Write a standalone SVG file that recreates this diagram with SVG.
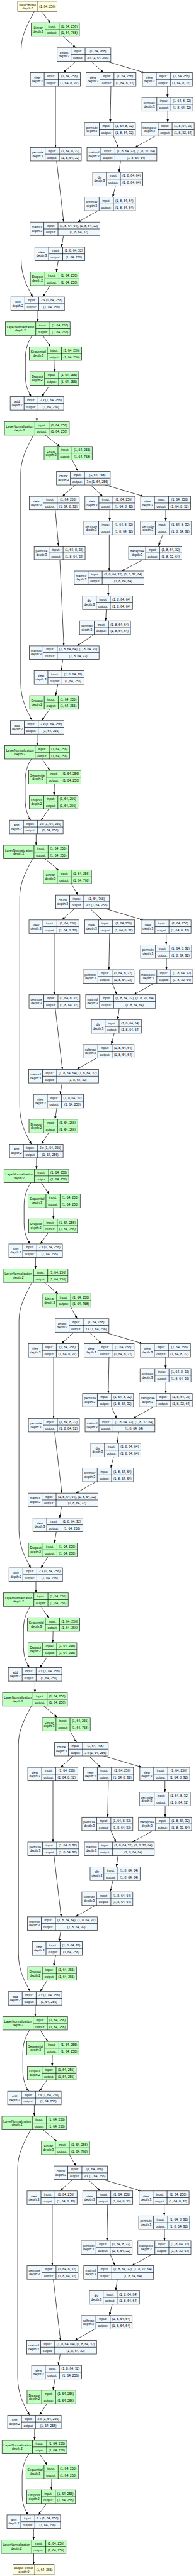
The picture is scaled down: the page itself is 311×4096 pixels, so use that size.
<svg xmlns="http://www.w3.org/2000/svg" width="311" height="4096" viewBox="0 0 311 4096">
<style>
text{font-family:"Liberation Sans",Arial,Helvetica,sans-serif;font-size:7.5px;text-anchor:middle;dominant-baseline:central;fill:#000}
.n rect{stroke:#3a3a3a;stroke-width:1.2}
.n path{fill:none;stroke:#000;stroke-width:1}
.f rect{fill:#F0F8FF}
.m rect{fill:#C1FFC1}
.t rect{fill:#FFFFE0}
#edges path{fill:none;stroke:#000;stroke-width:1;marker-end:url(#ah)}
</style>
<defs>
<marker id="ah" markerUnits="userSpaceOnUse" viewBox="0 0 8 6" markerWidth="8" markerHeight="6" refX="7" refY="2.6" orient="auto"><path d="M0,0L7,2.6L0,5.2z" fill="#000"/></marker>
</defs>
<rect width="311" height="4096" fill="#fff"/>
<g transform="scale(0.6797)">
<g id="edges">
<path d="M96.7,26.7L117,53.3"/>
<path d="M80,26.7C65,56.7 49.3,81.7 49.3,116.7L49.3,604.6C49.3,644.6 62.4,668.6 76.4,694.6"/>
<path d="M105.3,1017.8L139.7,1044.4"/>
<path d="M78,1017.8C63,1047.8 48.3,1072.8 48.3,1107.8L48.3,1595.7C48.3,1635.7 61.3,1659.7 75.3,1685.7"/>
<path d="M104.5,2008.9L137,2035.5"/>
<path d="M76,2008.9C61,2038.9 46,2063.9 46,2098.9L46,2586.8C46,2626.8 59.3,2650.8 73.3,2676.8"/>
<path d="M103.3,3000L135.5,3026.6"/>
<path d="M74.5,3000C59.5,3030 44.3,3055 44.3,3090L44.3,3577.9C44.3,3617.9 58,3641.9 72,3667.9"/>
<path d="M102,3991.1L134,4017.7"/>
<path d="M73,3991.1C58,4021.1 43,4046.1 43,4081.1L43,4569C43,4609 56.4,4633 70.4,4659"/>
<path d="M100.5,4982.2L132.5,5008.8"/>
<path d="M71.5,4982.2C56.5,5012.2 41.3,5037.2 41.3,5072.2L41.3,5560.1C41.3,5600.1 54.8,5624.1 68.8,5650.1"/>
<path d="M78.7,5973.3L78.7,5999.3"/>
<g id="edges-b1" transform="translate(3.1,53.3)">
<path d="M144.2,31.7L173.6,58.3"/><path d="M174.3,89.9L144.5,116.6"/><path d="M210,89.9L238.4,116.6"/><path d="M244.7,89.9L334,116.6"/><path d="M126.5,148.3L126.5,291.5"/><path d="M255.8,148.3L254.2,233.2"/><path d="M388,148.3L388,174.9"/><path d="M388.5,206.6L388.5,233.2"/><path d="M261.8,264.9L273.5,291.5"/><path d="M359.8,264.9L312,291.5"/><path d="M278.3,323.2L274.8,349.8"/><path d="M266.5,381.5L260,408.1"/><path d="M225.5,439.8L178.5,466.4"/><path d="M129,323.2L145.7,466.4"/><path d="M145,498.1L140.5,524.7"/><path d="M132.8,556.4L128.3,583"/><path d="M113.5,614.7L96.8,641.3"/><path d="M85.2,673L85.2,699.6"/><path d="M96.6,731.3L114.6,757.9"/><path d="M72.2,731.3C62,747 56.2,763 56.2,785L56.2,825C56.2,848 62,862 70.2,874.5"/><path d="M125.2,789.6L124.6,816.2"/><path d="M112.9,847.9L94.2,874.5"/><path d="M82.9,906.2L82.9,932.8"/>
</g>
<g id="edges-b2" transform="translate(0,1044.4)">
<path d="M168.7,31.7L182.3,58.3"/><path d="M176,90L145.3,116.6"/><path d="M211.3,90L240,116.6"/><path d="M246,90L335,116.6"/><path d="M129,148.3L136.7,233.2"/><path d="M256.3,148.3L256,174.9"/><path d="M387,148.3L387,174.9"/><path d="M380,206.6L370,233.2"/><path d="M255,206.6L255,291.5"/><path d="M333.3,264.9L284.3,291.5"/><path d="M253.3,323.2L252.7,349.8"/><path d="M248,381.5L246.7,408.1"/><path d="M220,439.8L180,466.4"/><path d="M139.7,264.9L149,466.4"/><path d="M146.7,498.1L142.7,524.7"/><path d="M135,556.4L130,583"/><path d="M115.7,614.7L97.7,641.3"/><path d="M86.7,673L86.7,699.6"/><path d="M98,731.3L116.3,757.9"/><path d="M73.3,731.3C63,747 58.7,763 58.7,785L58.7,825C58.7,848 64.5,862 71.5,874.5"/><path d="M127,789.6L126.3,816.2"/><path d="M114,847.9L96,874.5"/><path d="M84.3,906.2L84.3,932.8"/>
</g>
<g id="edges-b3" transform="translate(0,2035.5)">
<path d="M166.7,31.7L181.7,58.3"/><path d="M174.3,89.9L144.5,116.6"/><path d="M210,89.9L238.4,116.6"/><path d="M244.7,89.9L334,116.6"/><path d="M126.5,148.3L126.5,291.5"/><path d="M255.8,148.3L254.2,233.2"/><path d="M388,148.3L388,174.9"/><path d="M388.5,206.6L388.5,233.2"/><path d="M261.8,264.9L273.5,291.5"/><path d="M359.8,264.9L312,291.5"/><path d="M278.3,323.2L274.8,349.8"/><path d="M266.5,381.5L260,408.1"/><path d="M225.5,439.8L178.5,466.4"/><path d="M129,323.2L145.7,466.4"/><path d="M145,498.1L140.5,524.7"/><path d="M132.8,556.4L128.3,583"/><path d="M113.5,614.7L96.8,641.3"/><path d="M85.2,673L85.2,699.6"/><path d="M96.6,731.3L114.6,757.9"/><path d="M72.2,731.3C62,747 56.2,763 56.2,785L56.2,825C56.2,848 62,862 70.2,874.5"/><path d="M125.2,789.6L124.6,816.2"/><path d="M112.9,847.9L94.2,874.5"/><path d="M82.9,906.2L82.9,932.8"/>
</g>
<g id="edges-b4" transform="translate(-1.35,3026.6)">
<path d="M166.7,31.7L181.7,58.3"/><path d="M174.3,89.9L144.5,116.6"/><path d="M210,89.9L238.4,116.6"/><path d="M244.7,89.9L334,116.6"/><path d="M126.5,148.3L126.5,291.5"/><path d="M255.8,148.3L254.2,233.2"/><path d="M388,148.3L388,174.9"/><path d="M388.5,206.6L388.5,233.2"/><path d="M261.8,264.9L273.5,291.5"/><path d="M359.8,264.9L312,291.5"/><path d="M278.3,323.2L274.8,349.8"/><path d="M266.5,381.5L260,408.1"/><path d="M225.5,439.8L178.5,466.4"/><path d="M129,323.2L145.7,466.4"/><path d="M145,498.1L140.5,524.7"/><path d="M132.8,556.4L128.3,583"/><path d="M113.5,614.7L96.8,641.3"/><path d="M85.2,673L85.2,699.6"/><path d="M96.6,731.3L114.6,757.9"/><path d="M72.2,731.3C62,747 56.2,763 56.2,785L56.2,825C56.2,848 62,862 70.2,874.5"/><path d="M125.2,789.6L124.6,816.2"/><path d="M112.9,847.9L94.2,874.5"/><path d="M82.9,906.2L82.9,932.8"/>
</g>
<g id="edges-b5" transform="translate(-2.9,4017.7)">
<path d="M166.7,31.7L181.7,58.3"/><path d="M174.3,89.9L144.5,116.6"/><path d="M210,89.9L238.4,116.6"/><path d="M244.7,89.9L334,116.6"/><path d="M126.5,148.3L126.5,291.5"/><path d="M255.8,148.3L254.2,233.2"/><path d="M388,148.3L388,174.9"/><path d="M388.5,206.6L388.5,233.2"/><path d="M261.8,264.9L273.5,291.5"/><path d="M359.8,264.9L312,291.5"/><path d="M278.3,323.2L274.8,349.8"/><path d="M266.5,381.5L260,408.1"/><path d="M225.5,439.8L178.5,466.4"/><path d="M129,323.2L145.7,466.4"/><path d="M145,498.1L140.5,524.7"/><path d="M132.8,556.4L128.3,583"/><path d="M113.5,614.7L96.8,641.3"/><path d="M85.2,673L85.2,699.6"/><path d="M96.6,731.3L114.6,757.9"/><path d="M72.2,731.3C62,747 56.2,763 56.2,785L56.2,825C56.2,848 62,862 70.2,874.5"/><path d="M125.2,789.6L124.6,816.2"/><path d="M112.9,847.9L94.2,874.5"/><path d="M82.9,906.2L82.9,932.8"/>
</g>
<g id="edges-b6" transform="translate(-4.5,5008.8)">
<path d="M166.7,31.7L181.7,58.3"/><path d="M174.3,89.9L144.5,116.6"/><path d="M210,89.9L238.4,116.6"/><path d="M244.7,89.9L334,116.6"/><path d="M126.5,148.3L126.5,291.5"/><path d="M255.8,148.3L254.2,233.2"/><path d="M388,148.3L388,174.9"/><path d="M388.5,206.6L388.5,233.2"/><path d="M261.8,264.9L273.5,291.5"/><path d="M359.8,264.9L312,291.5"/><path d="M278.3,323.2L274.8,349.8"/><path d="M266.5,381.5L260,408.1"/><path d="M225.5,439.8L178.5,466.4"/><path d="M129,323.2L145.7,466.4"/><path d="M145,498.1L140.5,524.7"/><path d="M132.8,556.4L128.3,583"/><path d="M113.5,614.7L96.8,641.3"/><path d="M85.2,673L85.2,699.6"/><path d="M96.6,731.3L114.6,757.9"/><path d="M72.2,731.3C62,747 56.2,763 56.2,785L56.2,825C56.2,848 62,862 70.2,874.5"/><path d="M125.2,789.6L124.6,816.2"/><path d="M112.9,847.9L94.2,874.5"/><path d="M82.9,906.2L82.9,932.8"/>
</g>
</g>
<g id="nodes">
<g id="input-tensor" class="n t" transform="translate(41.3,2.7)"><rect width="91.7" height="24"/><path d="M47,0V24"/><text x="23.5" y="8.2">input-tensor</text><text x="23.5" y="16">depth:0</text><text x="69.35" y="12">(1, 64, 256)</text></g>
<g id="output-tensor" class="n t" transform="translate(30.3,5999.3)"><rect width="96" height="24"/><path d="M50.7,0V24"/><text x="25.35" y="8.2">output-tensor</text><text x="25.35" y="16">depth:0</text><text x="73.35" y="12">(1, 64, 256)</text></g>

<g id="block1" transform="translate(3.1,53.3)">
<g id="b1-linear" class="n m" transform="translate(69.9,0)"><rect width="112.3" height="31.7"/><path d="M32.3,0V31.7M65,0V31.7M32.3,15.85H112.3"/><text x="16.15" y="11.5">Linear</text><text x="16.15" y="19.8">depth:3</text><text x="48.65" y="7.9">input:</text><text x="48.65" y="23.8">output:</text><text x="88.65" y="7.9">(1, 64, 256)</text><text x="88.65" y="23.8">(1, 64, 768)</text></g>
<g id="b1-chunk" class="n f" transform="translate(130.3,58.3)"><rect width="125.3" height="31.7"/><path d="M32.3,0V31.7M65.3,0V31.7M32.3,15.85H125.3"/><text x="16.15" y="11.5">chunk</text><text x="16.15" y="19.8">depth:3</text><text x="48.8" y="7.9">input:</text><text x="48.8" y="23.8">output:</text><text x="95.3" y="7.9">(1, 64, 768)</text><text x="95.3" y="23.8">3 x (1, 64, 256)</text></g>
<g id="b1-view1" class="n f" transform="translate(67.7,116.6)"><rect width="116.7" height="31.7"/><path d="M32.4,0V31.7M65.2,0V31.7M32.4,15.85H116.7"/><text x="16.2" y="11.5">view</text><text x="16.2" y="19.8">depth:3</text><text x="48.8" y="7.9">input:</text><text x="48.8" y="23.8">output:</text><text x="90.95" y="7.9">(1, 64, 256)</text><text x="90.95" y="23.8">(1, 64, 8, 32)</text></g>
<g id="b1-view2" class="n f" transform="translate(197.7,116.6)"><rect width="116.7" height="31.7"/><path d="M32.4,0V31.7M65.2,0V31.7M32.4,15.85H116.7"/><text x="16.2" y="11.5">view</text><text x="16.2" y="19.8">depth:3</text><text x="48.8" y="7.9">input:</text><text x="48.8" y="23.8">output:</text><text x="90.95" y="7.9">(1, 64, 256)</text><text x="90.95" y="23.8">(1, 64, 8, 32)</text></g>
<g id="b1-view3" class="n f" transform="translate(329.3,116.6)"><rect width="116.7" height="31.7"/><path d="M32.4,0V31.7M65.2,0V31.7M32.4,15.85H116.7"/><text x="16.2" y="11.5">view</text><text x="16.2" y="19.8">depth:3</text><text x="48.8" y="7.9">input:</text><text x="48.8" y="23.8">output:</text><text x="90.95" y="7.9">(1, 64, 256)</text><text x="90.95" y="23.8">(1, 64, 8, 32)</text></g>
<g id="b1-permute3" class="n f" transform="translate(328.3,174.9)"><rect width="119" height="31.7"/><path d="M34.6,0V31.7M67.6,0V31.7M34.6,15.85H119"/><text x="17.3" y="11.5">permute</text><text x="17.3" y="19.8">depth:3</text><text x="51.1" y="7.9">input:</text><text x="51.1" y="23.8">output:</text><text x="93.3" y="7.9">(1, 64, 8, 32)</text><text x="93.3" y="23.8">(1, 8, 64, 32)</text></g>
<g id="b1-permute2" class="n f" transform="translate(194,233.2)"><rect width="119" height="31.7"/><path d="M34.6,0V31.7M67.6,0V31.7M34.6,15.85H119"/><text x="17.3" y="11.5">permute</text><text x="17.3" y="19.8">depth:3</text><text x="51.1" y="7.9">input:</text><text x="51.1" y="23.8">output:</text><text x="93.3" y="7.9">(1, 64, 8, 32)</text><text x="93.3" y="23.8">(1, 8, 64, 32)</text></g>
<g id="b1-transpose" class="n f" transform="translate(326.3,233.2)"><rect width="124" height="31.7"/><path d="M39.7,0V31.7M72.4,0V31.7M39.7,15.85H124"/><text x="19.85" y="11.5">transpose</text><text x="19.85" y="19.8">depth:3</text><text x="56.05" y="7.9">input:</text><text x="56.05" y="23.8">output:</text><text x="98.2" y="7.9">(1, 8, 64, 32)</text><text x="98.2" y="23.8">(1, 8, 32, 64)</text></g>
<g id="b1-permute1" class="n f" transform="translate(67.7,291.5)"><rect width="119" height="31.7"/><path d="M34.6,0V31.7M67.6,0V31.7M34.6,15.85H119"/><text x="17.3" y="11.5">permute</text><text x="17.3" y="19.8">depth:3</text><text x="51.1" y="7.9">input:</text><text x="51.1" y="23.8">output:</text><text x="93.3" y="7.9">(1, 64, 8, 32)</text><text x="93.3" y="23.8">(1, 8, 64, 32)</text></g>
<g id="b1-matmul1" class="n f" transform="translate(200,291.5)"><rect width="163" height="31.7"/><path d="M32.3,0V31.7M65.3,0V31.7M32.3,15.85H163"/><text x="16.15" y="11.5">matmul</text><text x="16.15" y="19.8">depth:3</text><text x="48.8" y="7.9">input:</text><text x="48.8" y="23.8">output:</text><text x="114.15" y="7.9">(1, 8, 64, 32), (1, 8, 32, 64)</text><text x="114.15" y="23.8">(1, 8, 64, 64)</text></g>
<g id="b1-div" class="n f" transform="translate(213.3,349.8)"><rect width="116.7" height="31.7"/><path d="M32,0V31.7M64.7,0V31.7M32,15.85H116.7"/><text x="16" y="11.5">div</text><text x="16" y="19.8">depth:3</text><text x="48.35" y="7.9">input:</text><text x="48.35" y="23.8">output:</text><text x="90.7" y="7.9">(1, 8, 64, 64)</text><text x="90.7" y="23.8">(1, 8, 64, 64)</text></g>
<g id="b1-softmax" class="n f" transform="translate(194,408.1)"><rect width="119" height="31.7"/><path d="M34.3,0V31.7M67.7,0V31.7M34.3,15.85H119"/><text x="17.15" y="11.5">softmax</text><text x="17.15" y="19.8">depth:3</text><text x="51" y="7.9">input:</text><text x="51" y="23.8">output:</text><text x="93.35" y="7.9">(1, 8, 64, 64)</text><text x="93.35" y="23.8">(1, 8, 64, 64)</text></g>
<g id="b1-matmul2" class="n f" transform="translate(67,466.4)"><rect width="163" height="31.7"/><path d="M32.3,0V31.7M65.3,0V31.7M32.3,15.85H163"/><text x="16.15" y="11.5">matmul</text><text x="16.15" y="19.8">depth:3</text><text x="48.8" y="7.9">input:</text><text x="48.8" y="23.8">output:</text><text x="114.15" y="7.9">(1, 8, 64, 64), (1, 8, 64, 32)</text><text x="114.15" y="23.8">(1, 8, 64, 32)</text></g>
<g id="b1-view4" class="n f" transform="translate(78.3,524.7)"><rect width="116.7" height="31.7"/><path d="M32,0V31.7M65,0V31.7M32,15.85H116.7"/><text x="16" y="11.5">view</text><text x="16" y="19.8">depth:3</text><text x="48.5" y="7.9">input:</text><text x="48.5" y="23.8">output:</text><text x="90.85" y="7.9">(1, 8, 64, 32)</text><text x="90.85" y="23.8">(1, 64, 256)</text></g>
<g id="b1-dropout1" class="n m" transform="translate(67.7,583)"><rect width="113.7" height="31.7"/><path d="M34,0V31.7M66.7,0V31.7M34,15.85H113.7"/><text x="17" y="11.5">Dropout</text><text x="17" y="19.8">depth:2</text><text x="50.35" y="7.9">input:</text><text x="50.35" y="23.8">output:</text><text x="90.2" y="7.9">(1, 64, 256)</text><text x="90.2" y="23.8">(1, 64, 256)</text></g>
<g id="b1-add1" class="n f" transform="translate(22.3,641.3)"><rect width="125" height="31.7"/><path d="M32.4,0V31.7M65,0V31.7M32.4,15.85H125"/><text x="16.2" y="11.5">add</text><text x="16.2" y="19.8">depth:2</text><text x="48.7" y="7.9">input:</text><text x="48.7" y="23.8">output:</text><text x="95" y="7.9">2 x (1, 64, 256)</text><text x="95" y="23.8">(1, 64, 256)</text></g>
<g id="b1-layernorm1" class="n m" transform="translate(9.3,699.6)"><rect width="151.3" height="31.7"/><path d="M71,0V31.7M104,0V31.7M71,15.85H151.3"/><text x="35.5" y="11.5">LayerNormalization</text><text x="35.5" y="19.8">depth:2</text><text x="87.5" y="7.9">input:</text><text x="87.5" y="23.8">output:</text><text x="127.65" y="7.9">(1, 64, 256)</text><text x="127.65" y="23.8">(1, 64, 256)</text></g>
<g id="b1-sequential" class="n m" transform="translate(65.3,757.9)"><rect width="122" height="31.7"/><path d="M42,0V31.7M75,0V31.7M42,15.85H122"/><text x="21" y="11.5">Sequential</text><text x="21" y="19.8">depth:3</text><text x="58.5" y="7.9">input:</text><text x="58.5" y="23.8">output:</text><text x="98.5" y="7.9">(1, 64, 256)</text><text x="98.5" y="23.8">(1, 64, 256)</text></g>
<g id="b1-dropout2" class="n m" transform="translate(67,816.2)"><rect width="113.7" height="31.7"/><path d="M34,0V31.7M66.7,0V31.7M34,15.85H113.7"/><text x="17" y="11.5">Dropout</text><text x="17" y="19.8">depth:2</text><text x="50.35" y="7.9">input:</text><text x="50.35" y="23.8">output:</text><text x="90.2" y="7.9">(1, 64, 256)</text><text x="90.2" y="23.8">(1, 64, 256)</text></g>
<g id="b1-add2" class="n f" transform="translate(20.7,874.5)"><rect width="125" height="31.7"/><path d="M32.4,0V31.7M65,0V31.7M32.4,15.85H125"/><text x="16.2" y="11.5">add</text><text x="16.2" y="19.8">depth:2</text><text x="48.7" y="7.9">input:</text><text x="48.7" y="23.8">output:</text><text x="95" y="7.9">2 x (1, 64, 256)</text><text x="95" y="23.8">(1, 64, 256)</text></g>
<g id="b1-layernorm2" class="n m" transform="translate(7.3,932.8)"><rect width="151.3" height="31.7"/><path d="M71,0V31.7M104,0V31.7M71,15.85H151.3"/><text x="35.5" y="11.5">LayerNormalization</text><text x="35.5" y="19.8">depth:2</text><text x="87.5" y="7.9">input:</text><text x="87.5" y="23.8">output:</text><text x="127.65" y="7.9">(1, 64, 256)</text><text x="127.65" y="23.8">(1, 64, 256)</text></g>
</g>

<g id="block2" transform="translate(0,1044.4)">
<g id="b2-linear" class="n m" transform="translate(103,0)"><rect width="112.3" height="31.7"/><path d="M32.3,0V31.7M65,0V31.7M32.3,15.85H112.3"/><text x="16.15" y="11.5">Linear</text><text x="16.15" y="19.8">depth:3</text><text x="48.65" y="7.9">input:</text><text x="48.65" y="23.8">output:</text><text x="88.65" y="7.9">(1, 64, 256)</text><text x="88.65" y="23.8">(1, 64, 768)</text></g>
<g id="b2-chunk" class="n f" transform="translate(132,58.3)"><rect width="125.3" height="31.7"/><path d="M32.3,0V31.7M65.3,0V31.7M32.3,15.85H125.3"/><text x="16.15" y="11.5">chunk</text><text x="16.15" y="19.8">depth:3</text><text x="48.8" y="7.9">input:</text><text x="48.8" y="23.8">output:</text><text x="95.3" y="7.9">(1, 64, 768)</text><text x="95.3" y="23.8">3 x (1, 64, 256)</text></g>
<g id="b2-view1" class="n f" transform="translate(68.3,116.6)"><rect width="116.7" height="31.7"/><path d="M32.4,0V31.7M65.2,0V31.7M32.4,15.85H116.7"/><text x="16.2" y="11.5">view</text><text x="16.2" y="19.8">depth:3</text><text x="48.8" y="7.9">input:</text><text x="48.8" y="23.8">output:</text><text x="90.95" y="7.9">(1, 64, 256)</text><text x="90.95" y="23.8">(1, 64, 8, 32)</text></g>
<g id="b2-view2" class="n f" transform="translate(198.3,116.6)"><rect width="116.7" height="31.7"/><path d="M32.4,0V31.7M65.2,0V31.7M32.4,15.85H116.7"/><text x="16.2" y="11.5">view</text><text x="16.2" y="19.8">depth:3</text><text x="48.8" y="7.9">input:</text><text x="48.8" y="23.8">output:</text><text x="90.95" y="7.9">(1, 64, 256)</text><text x="90.95" y="23.8">(1, 64, 8, 32)</text></g>
<g id="b2-view3" class="n f" transform="translate(328.3,116.6)"><rect width="116.7" height="31.7"/><path d="M32.4,0V31.7M65.2,0V31.7M32.4,15.85H116.7"/><text x="16.2" y="11.5">view</text><text x="16.2" y="19.8">depth:3</text><text x="48.8" y="7.9">input:</text><text x="48.8" y="23.8">output:</text><text x="90.95" y="7.9">(1, 64, 256)</text><text x="90.95" y="23.8">(1, 64, 8, 32)</text></g>
<g id="b2-permute2" class="n f" transform="translate(195.7,174.9)"><rect width="119" height="31.7"/><path d="M34.6,0V31.7M67.6,0V31.7M34.6,15.85H119"/><text x="17.3" y="11.5">permute</text><text x="17.3" y="19.8">depth:3</text><text x="51.1" y="7.9">input:</text><text x="51.1" y="23.8">output:</text><text x="93.3" y="7.9">(1, 64, 8, 32)</text><text x="93.3" y="23.8">(1, 8, 64, 32)</text></g>
<g id="b2-permute3" class="n f" transform="translate(328,174.9)"><rect width="119" height="31.7"/><path d="M34.6,0V31.7M67.6,0V31.7M34.6,15.85H119"/><text x="17.3" y="11.5">permute</text><text x="17.3" y="19.8">depth:3</text><text x="51.1" y="7.9">input:</text><text x="51.1" y="23.8">output:</text><text x="93.3" y="7.9">(1, 64, 8, 32)</text><text x="93.3" y="23.8">(1, 8, 64, 32)</text></g>
<g id="b2-permute1" class="n f" transform="translate(79.7,233.2)"><rect width="119" height="31.7"/><path d="M34.6,0V31.7M67.6,0V31.7M34.6,15.85H119"/><text x="17.3" y="11.5">permute</text><text x="17.3" y="19.8">depth:3</text><text x="51.1" y="7.9">input:</text><text x="51.1" y="23.8">output:</text><text x="93.3" y="7.9">(1, 64, 8, 32)</text><text x="93.3" y="23.8">(1, 8, 64, 32)</text></g>
<g id="b2-transpose" class="n f" transform="translate(300.3,233.2)"><rect width="124" height="31.7"/><path d="M39.7,0V31.7M72.4,0V31.7M39.7,15.85H124"/><text x="19.85" y="11.5">transpose</text><text x="19.85" y="19.8">depth:3</text><text x="56.05" y="7.9">input:</text><text x="56.05" y="23.8">output:</text><text x="98.2" y="7.9">(1, 8, 64, 32)</text><text x="98.2" y="23.8">(1, 8, 32, 64)</text></g>
<g id="b2-matmul1" class="n f" transform="translate(173.3,291.5)"><rect width="163" height="31.7"/><path d="M32.3,0V31.7M65.3,0V31.7M32.3,15.85H163"/><text x="16.15" y="11.5">matmul</text><text x="16.15" y="19.8">depth:3</text><text x="48.8" y="7.9">input:</text><text x="48.8" y="23.8">output:</text><text x="114.15" y="7.9">(1, 8, 64, 32), (1, 8, 32, 64)</text><text x="114.15" y="23.8">(1, 8, 64, 64)</text></g>
<g id="b2-div" class="n f" transform="translate(192.7,349.8)"><rect width="116.7" height="31.7"/><path d="M32,0V31.7M64.7,0V31.7M32,15.85H116.7"/><text x="16" y="11.5">div</text><text x="16" y="19.8">depth:3</text><text x="48.35" y="7.9">input:</text><text x="48.35" y="23.8">output:</text><text x="90.7" y="7.9">(1, 8, 64, 64)</text><text x="90.7" y="23.8">(1, 8, 64, 64)</text></g>
<g id="b2-softmax" class="n f" transform="translate(185.7,408.1)"><rect width="119" height="31.7"/><path d="M34.3,0V31.7M67.7,0V31.7M34.3,15.85H119"/><text x="17.15" y="11.5">softmax</text><text x="17.15" y="19.8">depth:3</text><text x="51" y="7.9">input:</text><text x="51" y="23.8">output:</text><text x="93.35" y="7.9">(1, 8, 64, 64)</text><text x="93.35" y="23.8">(1, 8, 64, 64)</text></g>
<g id="b2-matmul2" class="n f" transform="translate(68.3,466.4)"><rect width="163" height="31.7"/><path d="M32.3,0V31.7M65.3,0V31.7M32.3,15.85H163"/><text x="16.15" y="11.5">matmul</text><text x="16.15" y="19.8">depth:3</text><text x="48.8" y="7.9">input:</text><text x="48.8" y="23.8">output:</text><text x="114.15" y="7.9">(1, 8, 64, 64), (1, 8, 64, 32)</text><text x="114.15" y="23.8">(1, 8, 64, 32)</text></g>
<g id="b2-view4" class="n f" transform="translate(79.7,524.7)"><rect width="116.7" height="31.7"/><path d="M32,0V31.7M65,0V31.7M32,15.85H116.7"/><text x="16" y="11.5">view</text><text x="16" y="19.8">depth:3</text><text x="48.5" y="7.9">input:</text><text x="48.5" y="23.8">output:</text><text x="90.85" y="7.9">(1, 8, 64, 32)</text><text x="90.85" y="23.8">(1, 64, 256)</text></g>
<g id="b2-dropout1" class="n m" transform="translate(69.3,583)"><rect width="113.7" height="31.7"/><path d="M34,0V31.7M66.7,0V31.7M34,15.85H113.7"/><text x="17" y="11.5">Dropout</text><text x="17" y="19.8">depth:2</text><text x="50.35" y="7.9">input:</text><text x="50.35" y="23.8">output:</text><text x="90.2" y="7.9">(1, 64, 256)</text><text x="90.2" y="23.8">(1, 64, 256)</text></g>
<g id="b2-add1" class="n f" transform="translate(24.3,641.3)"><rect width="125" height="31.7"/><path d="M32.4,0V31.7M65,0V31.7M32.4,15.85H125"/><text x="16.2" y="11.5">add</text><text x="16.2" y="19.8">depth:2</text><text x="48.7" y="7.9">input:</text><text x="48.7" y="23.8">output:</text><text x="95" y="7.9">2 x (1, 64, 256)</text><text x="95" y="23.8">(1, 64, 256)</text></g>
<g id="b2-layernorm1" class="n m" transform="translate(11,699.6)"><rect width="151.3" height="31.7"/><path d="M71,0V31.7M104,0V31.7M71,15.85H151.3"/><text x="35.5" y="11.5">LayerNormalization</text><text x="35.5" y="19.8">depth:2</text><text x="87.5" y="7.9">input:</text><text x="87.5" y="23.8">output:</text><text x="127.65" y="7.9">(1, 64, 256)</text><text x="127.65" y="23.8">(1, 64, 256)</text></g>
<g id="b2-sequential" class="n m" transform="translate(67,757.9)"><rect width="122" height="31.7"/><path d="M42,0V31.7M75,0V31.7M42,15.85H122"/><text x="21" y="11.5">Sequential</text><text x="21" y="19.8">depth:3</text><text x="58.5" y="7.9">input:</text><text x="58.5" y="23.8">output:</text><text x="98.5" y="7.9">(1, 64, 256)</text><text x="98.5" y="23.8">(1, 64, 256)</text></g>
<g id="b2-dropout2" class="n m" transform="translate(68.3,816.2)"><rect width="113.7" height="31.7"/><path d="M34,0V31.7M66.7,0V31.7M34,15.85H113.7"/><text x="17" y="11.5">Dropout</text><text x="17" y="19.8">depth:2</text><text x="50.35" y="7.9">input:</text><text x="50.35" y="23.8">output:</text><text x="90.2" y="7.9">(1, 64, 256)</text><text x="90.2" y="23.8">(1, 64, 256)</text></g>
<g id="b2-add2" class="n f" transform="translate(22.3,874.5)"><rect width="125" height="31.7"/><path d="M32.4,0V31.7M65,0V31.7M32.4,15.85H125"/><text x="16.2" y="11.5">add</text><text x="16.2" y="19.8">depth:2</text><text x="48.7" y="7.9">input:</text><text x="48.7" y="23.8">output:</text><text x="95" y="7.9">2 x (1, 64, 256)</text><text x="95" y="23.8">(1, 64, 256)</text></g>
<g id="b2-layernorm2" class="n m" transform="translate(8.3,932.8)"><rect width="151.3" height="31.7"/><path d="M71,0V31.7M104,0V31.7M71,15.85H151.3"/><text x="35.5" y="11.5">LayerNormalization</text><text x="35.5" y="19.8">depth:2</text><text x="87.5" y="7.9">input:</text><text x="87.5" y="23.8">output:</text><text x="127.65" y="7.9">(1, 64, 256)</text><text x="127.65" y="23.8">(1, 64, 256)</text></g>
</g>

<g id="block3" transform="translate(0,2035.5)">
<g id="b3-linear" class="n m" transform="translate(101.3,0)"><rect width="112.3" height="31.7"/><path d="M32.3,0V31.7M65,0V31.7M32.3,15.85H112.3"/><text x="16.15" y="11.5">Linear</text><text x="16.15" y="19.8">depth:3</text><text x="48.65" y="7.9">input:</text><text x="48.65" y="23.8">output:</text><text x="88.65" y="7.9">(1, 64, 256)</text><text x="88.65" y="23.8">(1, 64, 768)</text></g>
<g id="b3-chunk" class="n f" transform="translate(130.3,58.3)"><rect width="125.3" height="31.7"/><path d="M32.3,0V31.7M65.3,0V31.7M32.3,15.85H125.3"/><text x="16.15" y="11.5">chunk</text><text x="16.15" y="19.8">depth:3</text><text x="48.8" y="7.9">input:</text><text x="48.8" y="23.8">output:</text><text x="95.3" y="7.9">(1, 64, 768)</text><text x="95.3" y="23.8">3 x (1, 64, 256)</text></g>
<g id="b3-view1" class="n f" transform="translate(67.7,116.6)"><rect width="116.7" height="31.7"/><path d="M32.4,0V31.7M65.2,0V31.7M32.4,15.85H116.7"/><text x="16.2" y="11.5">view</text><text x="16.2" y="19.8">depth:3</text><text x="48.8" y="7.9">input:</text><text x="48.8" y="23.8">output:</text><text x="90.95" y="7.9">(1, 64, 256)</text><text x="90.95" y="23.8">(1, 64, 8, 32)</text></g>
<g id="b3-view2" class="n f" transform="translate(197.7,116.6)"><rect width="116.7" height="31.7"/><path d="M32.4,0V31.7M65.2,0V31.7M32.4,15.85H116.7"/><text x="16.2" y="11.5">view</text><text x="16.2" y="19.8">depth:3</text><text x="48.8" y="7.9">input:</text><text x="48.8" y="23.8">output:</text><text x="90.95" y="7.9">(1, 64, 256)</text><text x="90.95" y="23.8">(1, 64, 8, 32)</text></g>
<g id="b3-view3" class="n f" transform="translate(329.3,116.6)"><rect width="116.7" height="31.7"/><path d="M32.4,0V31.7M65.2,0V31.7M32.4,15.85H116.7"/><text x="16.2" y="11.5">view</text><text x="16.2" y="19.8">depth:3</text><text x="48.8" y="7.9">input:</text><text x="48.8" y="23.8">output:</text><text x="90.95" y="7.9">(1, 64, 256)</text><text x="90.95" y="23.8">(1, 64, 8, 32)</text></g>
<g id="b3-permute3" class="n f" transform="translate(328.3,174.9)"><rect width="119" height="31.7"/><path d="M34.6,0V31.7M67.6,0V31.7M34.6,15.85H119"/><text x="17.3" y="11.5">permute</text><text x="17.3" y="19.8">depth:3</text><text x="51.1" y="7.9">input:</text><text x="51.1" y="23.8">output:</text><text x="93.3" y="7.9">(1, 64, 8, 32)</text><text x="93.3" y="23.8">(1, 8, 64, 32)</text></g>
<g id="b3-permute2" class="n f" transform="translate(194,233.2)"><rect width="119" height="31.7"/><path d="M34.6,0V31.7M67.6,0V31.7M34.6,15.85H119"/><text x="17.3" y="11.5">permute</text><text x="17.3" y="19.8">depth:3</text><text x="51.1" y="7.9">input:</text><text x="51.1" y="23.8">output:</text><text x="93.3" y="7.9">(1, 64, 8, 32)</text><text x="93.3" y="23.8">(1, 8, 64, 32)</text></g>
<g id="b3-transpose" class="n f" transform="translate(326.3,233.2)"><rect width="124" height="31.7"/><path d="M39.7,0V31.7M72.4,0V31.7M39.7,15.85H124"/><text x="19.85" y="11.5">transpose</text><text x="19.85" y="19.8">depth:3</text><text x="56.05" y="7.9">input:</text><text x="56.05" y="23.8">output:</text><text x="98.2" y="7.9">(1, 8, 64, 32)</text><text x="98.2" y="23.8">(1, 8, 32, 64)</text></g>
<g id="b3-permute1" class="n f" transform="translate(67.7,291.5)"><rect width="119" height="31.7"/><path d="M34.6,0V31.7M67.6,0V31.7M34.6,15.85H119"/><text x="17.3" y="11.5">permute</text><text x="17.3" y="19.8">depth:3</text><text x="51.1" y="7.9">input:</text><text x="51.1" y="23.8">output:</text><text x="93.3" y="7.9">(1, 64, 8, 32)</text><text x="93.3" y="23.8">(1, 8, 64, 32)</text></g>
<g id="b3-matmul1" class="n f" transform="translate(200,291.5)"><rect width="163" height="31.7"/><path d="M32.3,0V31.7M65.3,0V31.7M32.3,15.85H163"/><text x="16.15" y="11.5">matmul</text><text x="16.15" y="19.8">depth:3</text><text x="48.8" y="7.9">input:</text><text x="48.8" y="23.8">output:</text><text x="114.15" y="7.9">(1, 8, 64, 32), (1, 8, 32, 64)</text><text x="114.15" y="23.8">(1, 8, 64, 64)</text></g>
<g id="b3-div" class="n f" transform="translate(213.3,349.8)"><rect width="116.7" height="31.7"/><path d="M32,0V31.7M64.7,0V31.7M32,15.85H116.7"/><text x="16" y="11.5">div</text><text x="16" y="19.8">depth:3</text><text x="48.35" y="7.9">input:</text><text x="48.35" y="23.8">output:</text><text x="90.7" y="7.9">(1, 8, 64, 64)</text><text x="90.7" y="23.8">(1, 8, 64, 64)</text></g>
<g id="b3-softmax" class="n f" transform="translate(194,408.1)"><rect width="119" height="31.7"/><path d="M34.3,0V31.7M67.7,0V31.7M34.3,15.85H119"/><text x="17.15" y="11.5">softmax</text><text x="17.15" y="19.8">depth:3</text><text x="51" y="7.9">input:</text><text x="51" y="23.8">output:</text><text x="93.35" y="7.9">(1, 8, 64, 64)</text><text x="93.35" y="23.8">(1, 8, 64, 64)</text></g>
<g id="b3-matmul2" class="n f" transform="translate(67,466.4)"><rect width="163" height="31.7"/><path d="M32.3,0V31.7M65.3,0V31.7M32.3,15.85H163"/><text x="16.15" y="11.5">matmul</text><text x="16.15" y="19.8">depth:3</text><text x="48.8" y="7.9">input:</text><text x="48.8" y="23.8">output:</text><text x="114.15" y="7.9">(1, 8, 64, 64), (1, 8, 64, 32)</text><text x="114.15" y="23.8">(1, 8, 64, 32)</text></g>
<g id="b3-view4" class="n f" transform="translate(78.3,524.7)"><rect width="116.7" height="31.7"/><path d="M32,0V31.7M65,0V31.7M32,15.85H116.7"/><text x="16" y="11.5">view</text><text x="16" y="19.8">depth:3</text><text x="48.5" y="7.9">input:</text><text x="48.5" y="23.8">output:</text><text x="90.85" y="7.9">(1, 8, 64, 32)</text><text x="90.85" y="23.8">(1, 64, 256)</text></g>
<g id="b3-dropout1" class="n m" transform="translate(67.7,583)"><rect width="113.7" height="31.7"/><path d="M34,0V31.7M66.7,0V31.7M34,15.85H113.7"/><text x="17" y="11.5">Dropout</text><text x="17" y="19.8">depth:2</text><text x="50.35" y="7.9">input:</text><text x="50.35" y="23.8">output:</text><text x="90.2" y="7.9">(1, 64, 256)</text><text x="90.2" y="23.8">(1, 64, 256)</text></g>
<g id="b3-add1" class="n f" transform="translate(22.3,641.3)"><rect width="125" height="31.7"/><path d="M32.4,0V31.7M65,0V31.7M32.4,15.85H125"/><text x="16.2" y="11.5">add</text><text x="16.2" y="19.8">depth:2</text><text x="48.7" y="7.9">input:</text><text x="48.7" y="23.8">output:</text><text x="95" y="7.9">2 x (1, 64, 256)</text><text x="95" y="23.8">(1, 64, 256)</text></g>
<g id="b3-layernorm1" class="n m" transform="translate(9.3,699.6)"><rect width="151.3" height="31.7"/><path d="M71,0V31.7M104,0V31.7M71,15.85H151.3"/><text x="35.5" y="11.5">LayerNormalization</text><text x="35.5" y="19.8">depth:2</text><text x="87.5" y="7.9">input:</text><text x="87.5" y="23.8">output:</text><text x="127.65" y="7.9">(1, 64, 256)</text><text x="127.65" y="23.8">(1, 64, 256)</text></g>
<g id="b3-sequential" class="n m" transform="translate(65.3,757.9)"><rect width="122" height="31.7"/><path d="M42,0V31.7M75,0V31.7M42,15.85H122"/><text x="21" y="11.5">Sequential</text><text x="21" y="19.8">depth:3</text><text x="58.5" y="7.9">input:</text><text x="58.5" y="23.8">output:</text><text x="98.5" y="7.9">(1, 64, 256)</text><text x="98.5" y="23.8">(1, 64, 256)</text></g>
<g id="b3-dropout2" class="n m" transform="translate(67,816.2)"><rect width="113.7" height="31.7"/><path d="M34,0V31.7M66.7,0V31.7M34,15.85H113.7"/><text x="17" y="11.5">Dropout</text><text x="17" y="19.8">depth:2</text><text x="50.35" y="7.9">input:</text><text x="50.35" y="23.8">output:</text><text x="90.2" y="7.9">(1, 64, 256)</text><text x="90.2" y="23.8">(1, 64, 256)</text></g>
<g id="b3-add2" class="n f" transform="translate(20.7,874.5)"><rect width="125" height="31.7"/><path d="M32.4,0V31.7M65,0V31.7M32.4,15.85H125"/><text x="16.2" y="11.5">add</text><text x="16.2" y="19.8">depth:2</text><text x="48.7" y="7.9">input:</text><text x="48.7" y="23.8">output:</text><text x="95" y="7.9">2 x (1, 64, 256)</text><text x="95" y="23.8">(1, 64, 256)</text></g>
<g id="b3-layernorm2" class="n m" transform="translate(7.3,932.8)"><rect width="151.3" height="31.7"/><path d="M71,0V31.7M104,0V31.7M71,15.85H151.3"/><text x="35.5" y="11.5">LayerNormalization</text><text x="35.5" y="19.8">depth:2</text><text x="87.5" y="7.9">input:</text><text x="87.5" y="23.8">output:</text><text x="127.65" y="7.9">(1, 64, 256)</text><text x="127.65" y="23.8">(1, 64, 256)</text></g>
</g>

<g id="block4" transform="translate(-1.35,3026.6)">
<g id="b4-linear" class="n m" transform="translate(101.3,0)"><rect width="112.3" height="31.7"/><path d="M32.3,0V31.7M65,0V31.7M32.3,15.85H112.3"/><text x="16.15" y="11.5">Linear</text><text x="16.15" y="19.8">depth:3</text><text x="48.65" y="7.9">input:</text><text x="48.65" y="23.8">output:</text><text x="88.65" y="7.9">(1, 64, 256)</text><text x="88.65" y="23.8">(1, 64, 768)</text></g>
<g id="b4-chunk" class="n f" transform="translate(130.3,58.3)"><rect width="125.3" height="31.7"/><path d="M32.3,0V31.7M65.3,0V31.7M32.3,15.85H125.3"/><text x="16.15" y="11.5">chunk</text><text x="16.15" y="19.8">depth:3</text><text x="48.8" y="7.9">input:</text><text x="48.8" y="23.8">output:</text><text x="95.3" y="7.9">(1, 64, 768)</text><text x="95.3" y="23.8">3 x (1, 64, 256)</text></g>
<g id="b4-view1" class="n f" transform="translate(67.7,116.6)"><rect width="116.7" height="31.7"/><path d="M32.4,0V31.7M65.2,0V31.7M32.4,15.85H116.7"/><text x="16.2" y="11.5">view</text><text x="16.2" y="19.8">depth:3</text><text x="48.8" y="7.9">input:</text><text x="48.8" y="23.8">output:</text><text x="90.95" y="7.9">(1, 64, 256)</text><text x="90.95" y="23.8">(1, 64, 8, 32)</text></g>
<g id="b4-view2" class="n f" transform="translate(197.7,116.6)"><rect width="116.7" height="31.7"/><path d="M32.4,0V31.7M65.2,0V31.7M32.4,15.85H116.7"/><text x="16.2" y="11.5">view</text><text x="16.2" y="19.8">depth:3</text><text x="48.8" y="7.9">input:</text><text x="48.8" y="23.8">output:</text><text x="90.95" y="7.9">(1, 64, 256)</text><text x="90.95" y="23.8">(1, 64, 8, 32)</text></g>
<g id="b4-view3" class="n f" transform="translate(329.3,116.6)"><rect width="116.7" height="31.7"/><path d="M32.4,0V31.7M65.2,0V31.7M32.4,15.85H116.7"/><text x="16.2" y="11.5">view</text><text x="16.2" y="19.8">depth:3</text><text x="48.8" y="7.9">input:</text><text x="48.8" y="23.8">output:</text><text x="90.95" y="7.9">(1, 64, 256)</text><text x="90.95" y="23.8">(1, 64, 8, 32)</text></g>
<g id="b4-permute3" class="n f" transform="translate(328.3,174.9)"><rect width="119" height="31.7"/><path d="M34.6,0V31.7M67.6,0V31.7M34.6,15.85H119"/><text x="17.3" y="11.5">permute</text><text x="17.3" y="19.8">depth:3</text><text x="51.1" y="7.9">input:</text><text x="51.1" y="23.8">output:</text><text x="93.3" y="7.9">(1, 64, 8, 32)</text><text x="93.3" y="23.8">(1, 8, 64, 32)</text></g>
<g id="b4-permute2" class="n f" transform="translate(194,233.2)"><rect width="119" height="31.7"/><path d="M34.6,0V31.7M67.6,0V31.7M34.6,15.85H119"/><text x="17.3" y="11.5">permute</text><text x="17.3" y="19.8">depth:3</text><text x="51.1" y="7.9">input:</text><text x="51.1" y="23.8">output:</text><text x="93.3" y="7.9">(1, 64, 8, 32)</text><text x="93.3" y="23.8">(1, 8, 64, 32)</text></g>
<g id="b4-transpose" class="n f" transform="translate(326.3,233.2)"><rect width="124" height="31.7"/><path d="M39.7,0V31.7M72.4,0V31.7M39.7,15.85H124"/><text x="19.85" y="11.5">transpose</text><text x="19.85" y="19.8">depth:3</text><text x="56.05" y="7.9">input:</text><text x="56.05" y="23.8">output:</text><text x="98.2" y="7.9">(1, 8, 64, 32)</text><text x="98.2" y="23.8">(1, 8, 32, 64)</text></g>
<g id="b4-permute1" class="n f" transform="translate(67.7,291.5)"><rect width="119" height="31.7"/><path d="M34.6,0V31.7M67.6,0V31.7M34.6,15.85H119"/><text x="17.3" y="11.5">permute</text><text x="17.3" y="19.8">depth:3</text><text x="51.1" y="7.9">input:</text><text x="51.1" y="23.8">output:</text><text x="93.3" y="7.9">(1, 64, 8, 32)</text><text x="93.3" y="23.8">(1, 8, 64, 32)</text></g>
<g id="b4-matmul1" class="n f" transform="translate(200,291.5)"><rect width="163" height="31.7"/><path d="M32.3,0V31.7M65.3,0V31.7M32.3,15.85H163"/><text x="16.15" y="11.5">matmul</text><text x="16.15" y="19.8">depth:3</text><text x="48.8" y="7.9">input:</text><text x="48.8" y="23.8">output:</text><text x="114.15" y="7.9">(1, 8, 64, 32), (1, 8, 32, 64)</text><text x="114.15" y="23.8">(1, 8, 64, 64)</text></g>
<g id="b4-div" class="n f" transform="translate(213.3,349.8)"><rect width="116.7" height="31.7"/><path d="M32,0V31.7M64.7,0V31.7M32,15.85H116.7"/><text x="16" y="11.5">div</text><text x="16" y="19.8">depth:3</text><text x="48.35" y="7.9">input:</text><text x="48.35" y="23.8">output:</text><text x="90.7" y="7.9">(1, 8, 64, 64)</text><text x="90.7" y="23.8">(1, 8, 64, 64)</text></g>
<g id="b4-softmax" class="n f" transform="translate(194,408.1)"><rect width="119" height="31.7"/><path d="M34.3,0V31.7M67.7,0V31.7M34.3,15.85H119"/><text x="17.15" y="11.5">softmax</text><text x="17.15" y="19.8">depth:3</text><text x="51" y="7.9">input:</text><text x="51" y="23.8">output:</text><text x="93.35" y="7.9">(1, 8, 64, 64)</text><text x="93.35" y="23.8">(1, 8, 64, 64)</text></g>
<g id="b4-matmul2" class="n f" transform="translate(67,466.4)"><rect width="163" height="31.7"/><path d="M32.3,0V31.7M65.3,0V31.7M32.3,15.85H163"/><text x="16.15" y="11.5">matmul</text><text x="16.15" y="19.8">depth:3</text><text x="48.8" y="7.9">input:</text><text x="48.8" y="23.8">output:</text><text x="114.15" y="7.9">(1, 8, 64, 64), (1, 8, 64, 32)</text><text x="114.15" y="23.8">(1, 8, 64, 32)</text></g>
<g id="b4-view4" class="n f" transform="translate(78.3,524.7)"><rect width="116.7" height="31.7"/><path d="M32,0V31.7M65,0V31.7M32,15.85H116.7"/><text x="16" y="11.5">view</text><text x="16" y="19.8">depth:3</text><text x="48.5" y="7.9">input:</text><text x="48.5" y="23.8">output:</text><text x="90.85" y="7.9">(1, 8, 64, 32)</text><text x="90.85" y="23.8">(1, 64, 256)</text></g>
<g id="b4-dropout1" class="n m" transform="translate(67.7,583)"><rect width="113.7" height="31.7"/><path d="M34,0V31.7M66.7,0V31.7M34,15.85H113.7"/><text x="17" y="11.5">Dropout</text><text x="17" y="19.8">depth:2</text><text x="50.35" y="7.9">input:</text><text x="50.35" y="23.8">output:</text><text x="90.2" y="7.9">(1, 64, 256)</text><text x="90.2" y="23.8">(1, 64, 256)</text></g>
<g id="b4-add1" class="n f" transform="translate(22.3,641.3)"><rect width="125" height="31.7"/><path d="M32.4,0V31.7M65,0V31.7M32.4,15.85H125"/><text x="16.2" y="11.5">add</text><text x="16.2" y="19.8">depth:2</text><text x="48.7" y="7.9">input:</text><text x="48.7" y="23.8">output:</text><text x="95" y="7.9">2 x (1, 64, 256)</text><text x="95" y="23.8">(1, 64, 256)</text></g>
<g id="b4-layernorm1" class="n m" transform="translate(9.3,699.6)"><rect width="151.3" height="31.7"/><path d="M71,0V31.7M104,0V31.7M71,15.85H151.3"/><text x="35.5" y="11.5">LayerNormalization</text><text x="35.5" y="19.8">depth:2</text><text x="87.5" y="7.9">input:</text><text x="87.5" y="23.8">output:</text><text x="127.65" y="7.9">(1, 64, 256)</text><text x="127.65" y="23.8">(1, 64, 256)</text></g>
<g id="b4-sequential" class="n m" transform="translate(65.3,757.9)"><rect width="122" height="31.7"/><path d="M42,0V31.7M75,0V31.7M42,15.85H122"/><text x="21" y="11.5">Sequential</text><text x="21" y="19.8">depth:3</text><text x="58.5" y="7.9">input:</text><text x="58.5" y="23.8">output:</text><text x="98.5" y="7.9">(1, 64, 256)</text><text x="98.5" y="23.8">(1, 64, 256)</text></g>
<g id="b4-dropout2" class="n m" transform="translate(67,816.2)"><rect width="113.7" height="31.7"/><path d="M34,0V31.7M66.7,0V31.7M34,15.85H113.7"/><text x="17" y="11.5">Dropout</text><text x="17" y="19.8">depth:2</text><text x="50.35" y="7.9">input:</text><text x="50.35" y="23.8">output:</text><text x="90.2" y="7.9">(1, 64, 256)</text><text x="90.2" y="23.8">(1, 64, 256)</text></g>
<g id="b4-add2" class="n f" transform="translate(20.7,874.5)"><rect width="125" height="31.7"/><path d="M32.4,0V31.7M65,0V31.7M32.4,15.85H125"/><text x="16.2" y="11.5">add</text><text x="16.2" y="19.8">depth:2</text><text x="48.7" y="7.9">input:</text><text x="48.7" y="23.8">output:</text><text x="95" y="7.9">2 x (1, 64, 256)</text><text x="95" y="23.8">(1, 64, 256)</text></g>
<g id="b4-layernorm2" class="n m" transform="translate(7.3,932.8)"><rect width="151.3" height="31.7"/><path d="M71,0V31.7M104,0V31.7M71,15.85H151.3"/><text x="35.5" y="11.5">LayerNormalization</text><text x="35.5" y="19.8">depth:2</text><text x="87.5" y="7.9">input:</text><text x="87.5" y="23.8">output:</text><text x="127.65" y="7.9">(1, 64, 256)</text><text x="127.65" y="23.8">(1, 64, 256)</text></g>
</g>

<g id="block5" transform="translate(-2.9,4017.7)">
<g id="b5-linear" class="n m" transform="translate(101.3,0)"><rect width="112.3" height="31.7"/><path d="M32.3,0V31.7M65,0V31.7M32.3,15.85H112.3"/><text x="16.15" y="11.5">Linear</text><text x="16.15" y="19.8">depth:3</text><text x="48.65" y="7.9">input:</text><text x="48.65" y="23.8">output:</text><text x="88.65" y="7.9">(1, 64, 256)</text><text x="88.65" y="23.8">(1, 64, 768)</text></g>
<g id="b5-chunk" class="n f" transform="translate(130.3,58.3)"><rect width="125.3" height="31.7"/><path d="M32.3,0V31.7M65.3,0V31.7M32.3,15.85H125.3"/><text x="16.15" y="11.5">chunk</text><text x="16.15" y="19.8">depth:3</text><text x="48.8" y="7.9">input:</text><text x="48.8" y="23.8">output:</text><text x="95.3" y="7.9">(1, 64, 768)</text><text x="95.3" y="23.8">3 x (1, 64, 256)</text></g>
<g id="b5-view1" class="n f" transform="translate(67.7,116.6)"><rect width="116.7" height="31.7"/><path d="M32.4,0V31.7M65.2,0V31.7M32.4,15.85H116.7"/><text x="16.2" y="11.5">view</text><text x="16.2" y="19.8">depth:3</text><text x="48.8" y="7.9">input:</text><text x="48.8" y="23.8">output:</text><text x="90.95" y="7.9">(1, 64, 256)</text><text x="90.95" y="23.8">(1, 64, 8, 32)</text></g>
<g id="b5-view2" class="n f" transform="translate(197.7,116.6)"><rect width="116.7" height="31.7"/><path d="M32.4,0V31.7M65.2,0V31.7M32.4,15.85H116.7"/><text x="16.2" y="11.5">view</text><text x="16.2" y="19.8">depth:3</text><text x="48.8" y="7.9">input:</text><text x="48.8" y="23.8">output:</text><text x="90.95" y="7.9">(1, 64, 256)</text><text x="90.95" y="23.8">(1, 64, 8, 32)</text></g>
<g id="b5-view3" class="n f" transform="translate(329.3,116.6)"><rect width="116.7" height="31.7"/><path d="M32.4,0V31.7M65.2,0V31.7M32.4,15.85H116.7"/><text x="16.2" y="11.5">view</text><text x="16.2" y="19.8">depth:3</text><text x="48.8" y="7.9">input:</text><text x="48.8" y="23.8">output:</text><text x="90.95" y="7.9">(1, 64, 256)</text><text x="90.95" y="23.8">(1, 64, 8, 32)</text></g>
<g id="b5-permute3" class="n f" transform="translate(328.3,174.9)"><rect width="119" height="31.7"/><path d="M34.6,0V31.7M67.6,0V31.7M34.6,15.85H119"/><text x="17.3" y="11.5">permute</text><text x="17.3" y="19.8">depth:3</text><text x="51.1" y="7.9">input:</text><text x="51.1" y="23.8">output:</text><text x="93.3" y="7.9">(1, 64, 8, 32)</text><text x="93.3" y="23.8">(1, 8, 64, 32)</text></g>
<g id="b5-permute2" class="n f" transform="translate(194,233.2)"><rect width="119" height="31.7"/><path d="M34.6,0V31.7M67.6,0V31.7M34.6,15.85H119"/><text x="17.3" y="11.5">permute</text><text x="17.3" y="19.8">depth:3</text><text x="51.1" y="7.9">input:</text><text x="51.1" y="23.8">output:</text><text x="93.3" y="7.9">(1, 64, 8, 32)</text><text x="93.3" y="23.8">(1, 8, 64, 32)</text></g>
<g id="b5-transpose" class="n f" transform="translate(326.3,233.2)"><rect width="124" height="31.7"/><path d="M39.7,0V31.7M72.4,0V31.7M39.7,15.85H124"/><text x="19.85" y="11.5">transpose</text><text x="19.85" y="19.8">depth:3</text><text x="56.05" y="7.9">input:</text><text x="56.05" y="23.8">output:</text><text x="98.2" y="7.9">(1, 8, 64, 32)</text><text x="98.2" y="23.8">(1, 8, 32, 64)</text></g>
<g id="b5-permute1" class="n f" transform="translate(67.7,291.5)"><rect width="119" height="31.7"/><path d="M34.6,0V31.7M67.6,0V31.7M34.6,15.85H119"/><text x="17.3" y="11.5">permute</text><text x="17.3" y="19.8">depth:3</text><text x="51.1" y="7.9">input:</text><text x="51.1" y="23.8">output:</text><text x="93.3" y="7.9">(1, 64, 8, 32)</text><text x="93.3" y="23.8">(1, 8, 64, 32)</text></g>
<g id="b5-matmul1" class="n f" transform="translate(200,291.5)"><rect width="163" height="31.7"/><path d="M32.3,0V31.7M65.3,0V31.7M32.3,15.85H163"/><text x="16.15" y="11.5">matmul</text><text x="16.15" y="19.8">depth:3</text><text x="48.8" y="7.9">input:</text><text x="48.8" y="23.8">output:</text><text x="114.15" y="7.9">(1, 8, 64, 32), (1, 8, 32, 64)</text><text x="114.15" y="23.8">(1, 8, 64, 64)</text></g>
<g id="b5-div" class="n f" transform="translate(213.3,349.8)"><rect width="116.7" height="31.7"/><path d="M32,0V31.7M64.7,0V31.7M32,15.85H116.7"/><text x="16" y="11.5">div</text><text x="16" y="19.8">depth:3</text><text x="48.35" y="7.9">input:</text><text x="48.35" y="23.8">output:</text><text x="90.7" y="7.9">(1, 8, 64, 64)</text><text x="90.7" y="23.8">(1, 8, 64, 64)</text></g>
<g id="b5-softmax" class="n f" transform="translate(194,408.1)"><rect width="119" height="31.7"/><path d="M34.3,0V31.7M67.7,0V31.7M34.3,15.85H119"/><text x="17.15" y="11.5">softmax</text><text x="17.15" y="19.8">depth:3</text><text x="51" y="7.9">input:</text><text x="51" y="23.8">output:</text><text x="93.35" y="7.9">(1, 8, 64, 64)</text><text x="93.35" y="23.8">(1, 8, 64, 64)</text></g>
<g id="b5-matmul2" class="n f" transform="translate(67,466.4)"><rect width="163" height="31.7"/><path d="M32.3,0V31.7M65.3,0V31.7M32.3,15.85H163"/><text x="16.15" y="11.5">matmul</text><text x="16.15" y="19.8">depth:3</text><text x="48.8" y="7.9">input:</text><text x="48.8" y="23.8">output:</text><text x="114.15" y="7.9">(1, 8, 64, 64), (1, 8, 64, 32)</text><text x="114.15" y="23.8">(1, 8, 64, 32)</text></g>
<g id="b5-view4" class="n f" transform="translate(78.3,524.7)"><rect width="116.7" height="31.7"/><path d="M32,0V31.7M65,0V31.7M32,15.85H116.7"/><text x="16" y="11.5">view</text><text x="16" y="19.8">depth:3</text><text x="48.5" y="7.9">input:</text><text x="48.5" y="23.8">output:</text><text x="90.85" y="7.9">(1, 8, 64, 32)</text><text x="90.85" y="23.8">(1, 64, 256)</text></g>
<g id="b5-dropout1" class="n m" transform="translate(67.7,583)"><rect width="113.7" height="31.7"/><path d="M34,0V31.7M66.7,0V31.7M34,15.85H113.7"/><text x="17" y="11.5">Dropout</text><text x="17" y="19.8">depth:2</text><text x="50.35" y="7.9">input:</text><text x="50.35" y="23.8">output:</text><text x="90.2" y="7.9">(1, 64, 256)</text><text x="90.2" y="23.8">(1, 64, 256)</text></g>
<g id="b5-add1" class="n f" transform="translate(22.3,641.3)"><rect width="125" height="31.7"/><path d="M32.4,0V31.7M65,0V31.7M32.4,15.85H125"/><text x="16.2" y="11.5">add</text><text x="16.2" y="19.8">depth:2</text><text x="48.7" y="7.9">input:</text><text x="48.7" y="23.8">output:</text><text x="95" y="7.9">2 x (1, 64, 256)</text><text x="95" y="23.8">(1, 64, 256)</text></g>
<g id="b5-layernorm1" class="n m" transform="translate(9.3,699.6)"><rect width="151.3" height="31.7"/><path d="M71,0V31.7M104,0V31.7M71,15.85H151.3"/><text x="35.5" y="11.5">LayerNormalization</text><text x="35.5" y="19.8">depth:2</text><text x="87.5" y="7.9">input:</text><text x="87.5" y="23.8">output:</text><text x="127.65" y="7.9">(1, 64, 256)</text><text x="127.65" y="23.8">(1, 64, 256)</text></g>
<g id="b5-sequential" class="n m" transform="translate(65.3,757.9)"><rect width="122" height="31.7"/><path d="M42,0V31.7M75,0V31.7M42,15.85H122"/><text x="21" y="11.5">Sequential</text><text x="21" y="19.8">depth:3</text><text x="58.5" y="7.9">input:</text><text x="58.5" y="23.8">output:</text><text x="98.5" y="7.9">(1, 64, 256)</text><text x="98.5" y="23.8">(1, 64, 256)</text></g>
<g id="b5-dropout2" class="n m" transform="translate(67,816.2)"><rect width="113.7" height="31.7"/><path d="M34,0V31.7M66.7,0V31.7M34,15.85H113.7"/><text x="17" y="11.5">Dropout</text><text x="17" y="19.8">depth:2</text><text x="50.35" y="7.9">input:</text><text x="50.35" y="23.8">output:</text><text x="90.2" y="7.9">(1, 64, 256)</text><text x="90.2" y="23.8">(1, 64, 256)</text></g>
<g id="b5-add2" class="n f" transform="translate(20.7,874.5)"><rect width="125" height="31.7"/><path d="M32.4,0V31.7M65,0V31.7M32.4,15.85H125"/><text x="16.2" y="11.5">add</text><text x="16.2" y="19.8">depth:2</text><text x="48.7" y="7.9">input:</text><text x="48.7" y="23.8">output:</text><text x="95" y="7.9">2 x (1, 64, 256)</text><text x="95" y="23.8">(1, 64, 256)</text></g>
<g id="b5-layernorm2" class="n m" transform="translate(7.3,932.8)"><rect width="151.3" height="31.7"/><path d="M71,0V31.7M104,0V31.7M71,15.85H151.3"/><text x="35.5" y="11.5">LayerNormalization</text><text x="35.5" y="19.8">depth:2</text><text x="87.5" y="7.9">input:</text><text x="87.5" y="23.8">output:</text><text x="127.65" y="7.9">(1, 64, 256)</text><text x="127.65" y="23.8">(1, 64, 256)</text></g>
</g>

<g id="block6" transform="translate(-4.5,5008.8)">
<g id="b6-linear" class="n m" transform="translate(101.3,0)"><rect width="112.3" height="31.7"/><path d="M32.3,0V31.7M65,0V31.7M32.3,15.85H112.3"/><text x="16.15" y="11.5">Linear</text><text x="16.15" y="19.8">depth:3</text><text x="48.65" y="7.9">input:</text><text x="48.65" y="23.8">output:</text><text x="88.65" y="7.9">(1, 64, 256)</text><text x="88.65" y="23.8">(1, 64, 768)</text></g>
<g id="b6-chunk" class="n f" transform="translate(130.3,58.3)"><rect width="125.3" height="31.7"/><path d="M32.3,0V31.7M65.3,0V31.7M32.3,15.85H125.3"/><text x="16.15" y="11.5">chunk</text><text x="16.15" y="19.8">depth:3</text><text x="48.8" y="7.9">input:</text><text x="48.8" y="23.8">output:</text><text x="95.3" y="7.9">(1, 64, 768)</text><text x="95.3" y="23.8">3 x (1, 64, 256)</text></g>
<g id="b6-view1" class="n f" transform="translate(67.7,116.6)"><rect width="116.7" height="31.7"/><path d="M32.4,0V31.7M65.2,0V31.7M32.4,15.85H116.7"/><text x="16.2" y="11.5">view</text><text x="16.2" y="19.8">depth:3</text><text x="48.8" y="7.9">input:</text><text x="48.8" y="23.8">output:</text><text x="90.95" y="7.9">(1, 64, 256)</text><text x="90.95" y="23.8">(1, 64, 8, 32)</text></g>
<g id="b6-view2" class="n f" transform="translate(197.7,116.6)"><rect width="116.7" height="31.7"/><path d="M32.4,0V31.7M65.2,0V31.7M32.4,15.85H116.7"/><text x="16.2" y="11.5">view</text><text x="16.2" y="19.8">depth:3</text><text x="48.8" y="7.9">input:</text><text x="48.8" y="23.8">output:</text><text x="90.95" y="7.9">(1, 64, 256)</text><text x="90.95" y="23.8">(1, 64, 8, 32)</text></g>
<g id="b6-view3" class="n f" transform="translate(329.3,116.6)"><rect width="116.7" height="31.7"/><path d="M32.4,0V31.7M65.2,0V31.7M32.4,15.85H116.7"/><text x="16.2" y="11.5">view</text><text x="16.2" y="19.8">depth:3</text><text x="48.8" y="7.9">input:</text><text x="48.8" y="23.8">output:</text><text x="90.95" y="7.9">(1, 64, 256)</text><text x="90.95" y="23.8">(1, 64, 8, 32)</text></g>
<g id="b6-permute3" class="n f" transform="translate(328.3,174.9)"><rect width="119" height="31.7"/><path d="M34.6,0V31.7M67.6,0V31.7M34.6,15.85H119"/><text x="17.3" y="11.5">permute</text><text x="17.3" y="19.8">depth:3</text><text x="51.1" y="7.9">input:</text><text x="51.1" y="23.8">output:</text><text x="93.3" y="7.9">(1, 64, 8, 32)</text><text x="93.3" y="23.8">(1, 8, 64, 32)</text></g>
<g id="b6-permute2" class="n f" transform="translate(194,233.2)"><rect width="119" height="31.7"/><path d="M34.6,0V31.7M67.6,0V31.7M34.6,15.85H119"/><text x="17.3" y="11.5">permute</text><text x="17.3" y="19.8">depth:3</text><text x="51.1" y="7.9">input:</text><text x="51.1" y="23.8">output:</text><text x="93.3" y="7.9">(1, 64, 8, 32)</text><text x="93.3" y="23.8">(1, 8, 64, 32)</text></g>
<g id="b6-transpose" class="n f" transform="translate(326.3,233.2)"><rect width="124" height="31.7"/><path d="M39.7,0V31.7M72.4,0V31.7M39.7,15.85H124"/><text x="19.85" y="11.5">transpose</text><text x="19.85" y="19.8">depth:3</text><text x="56.05" y="7.9">input:</text><text x="56.05" y="23.8">output:</text><text x="98.2" y="7.9">(1, 8, 64, 32)</text><text x="98.2" y="23.8">(1, 8, 32, 64)</text></g>
<g id="b6-permute1" class="n f" transform="translate(67.7,291.5)"><rect width="119" height="31.7"/><path d="M34.6,0V31.7M67.6,0V31.7M34.6,15.85H119"/><text x="17.3" y="11.5">permute</text><text x="17.3" y="19.8">depth:3</text><text x="51.1" y="7.9">input:</text><text x="51.1" y="23.8">output:</text><text x="93.3" y="7.9">(1, 64, 8, 32)</text><text x="93.3" y="23.8">(1, 8, 64, 32)</text></g>
<g id="b6-matmul1" class="n f" transform="translate(200,291.5)"><rect width="163" height="31.7"/><path d="M32.3,0V31.7M65.3,0V31.7M32.3,15.85H163"/><text x="16.15" y="11.5">matmul</text><text x="16.15" y="19.8">depth:3</text><text x="48.8" y="7.9">input:</text><text x="48.8" y="23.8">output:</text><text x="114.15" y="7.9">(1, 8, 64, 32), (1, 8, 32, 64)</text><text x="114.15" y="23.8">(1, 8, 64, 64)</text></g>
<g id="b6-div" class="n f" transform="translate(213.3,349.8)"><rect width="116.7" height="31.7"/><path d="M32,0V31.7M64.7,0V31.7M32,15.85H116.7"/><text x="16" y="11.5">div</text><text x="16" y="19.8">depth:3</text><text x="48.35" y="7.9">input:</text><text x="48.35" y="23.8">output:</text><text x="90.7" y="7.9">(1, 8, 64, 64)</text><text x="90.7" y="23.8">(1, 8, 64, 64)</text></g>
<g id="b6-softmax" class="n f" transform="translate(194,408.1)"><rect width="119" height="31.7"/><path d="M34.3,0V31.7M67.7,0V31.7M34.3,15.85H119"/><text x="17.15" y="11.5">softmax</text><text x="17.15" y="19.8">depth:3</text><text x="51" y="7.9">input:</text><text x="51" y="23.8">output:</text><text x="93.35" y="7.9">(1, 8, 64, 64)</text><text x="93.35" y="23.8">(1, 8, 64, 64)</text></g>
<g id="b6-matmul2" class="n f" transform="translate(67,466.4)"><rect width="163" height="31.7"/><path d="M32.3,0V31.7M65.3,0V31.7M32.3,15.85H163"/><text x="16.15" y="11.5">matmul</text><text x="16.15" y="19.8">depth:3</text><text x="48.8" y="7.9">input:</text><text x="48.8" y="23.8">output:</text><text x="114.15" y="7.9">(1, 8, 64, 64), (1, 8, 64, 32)</text><text x="114.15" y="23.8">(1, 8, 64, 32)</text></g>
<g id="b6-view4" class="n f" transform="translate(78.3,524.7)"><rect width="116.7" height="31.7"/><path d="M32,0V31.7M65,0V31.7M32,15.85H116.7"/><text x="16" y="11.5">view</text><text x="16" y="19.8">depth:3</text><text x="48.5" y="7.9">input:</text><text x="48.5" y="23.8">output:</text><text x="90.85" y="7.9">(1, 8, 64, 32)</text><text x="90.85" y="23.8">(1, 64, 256)</text></g>
<g id="b6-dropout1" class="n m" transform="translate(67.7,583)"><rect width="113.7" height="31.7"/><path d="M34,0V31.7M66.7,0V31.7M34,15.85H113.7"/><text x="17" y="11.5">Dropout</text><text x="17" y="19.8">depth:2</text><text x="50.35" y="7.9">input:</text><text x="50.35" y="23.8">output:</text><text x="90.2" y="7.9">(1, 64, 256)</text><text x="90.2" y="23.8">(1, 64, 256)</text></g>
<g id="b6-add1" class="n f" transform="translate(22.3,641.3)"><rect width="125" height="31.7"/><path d="M32.4,0V31.7M65,0V31.7M32.4,15.85H125"/><text x="16.2" y="11.5">add</text><text x="16.2" y="19.8">depth:2</text><text x="48.7" y="7.9">input:</text><text x="48.7" y="23.8">output:</text><text x="95" y="7.9">2 x (1, 64, 256)</text><text x="95" y="23.8">(1, 64, 256)</text></g>
<g id="b6-layernorm1" class="n m" transform="translate(9.3,699.6)"><rect width="151.3" height="31.7"/><path d="M71,0V31.7M104,0V31.7M71,15.85H151.3"/><text x="35.5" y="11.5">LayerNormalization</text><text x="35.5" y="19.8">depth:2</text><text x="87.5" y="7.9">input:</text><text x="87.5" y="23.8">output:</text><text x="127.65" y="7.9">(1, 64, 256)</text><text x="127.65" y="23.8">(1, 64, 256)</text></g>
<g id="b6-sequential" class="n m" transform="translate(65.3,757.9)"><rect width="122" height="31.7"/><path d="M42,0V31.7M75,0V31.7M42,15.85H122"/><text x="21" y="11.5">Sequential</text><text x="21" y="19.8">depth:3</text><text x="58.5" y="7.9">input:</text><text x="58.5" y="23.8">output:</text><text x="98.5" y="7.9">(1, 64, 256)</text><text x="98.5" y="23.8">(1, 64, 256)</text></g>
<g id="b6-dropout2" class="n m" transform="translate(67,816.2)"><rect width="113.7" height="31.7"/><path d="M34,0V31.7M66.7,0V31.7M34,15.85H113.7"/><text x="17" y="11.5">Dropout</text><text x="17" y="19.8">depth:2</text><text x="50.35" y="7.9">input:</text><text x="50.35" y="23.8">output:</text><text x="90.2" y="7.9">(1, 64, 256)</text><text x="90.2" y="23.8">(1, 64, 256)</text></g>
<g id="b6-add2" class="n f" transform="translate(20.7,874.5)"><rect width="125" height="31.7"/><path d="M32.4,0V31.7M65,0V31.7M32.4,15.85H125"/><text x="16.2" y="11.5">add</text><text x="16.2" y="19.8">depth:2</text><text x="48.7" y="7.9">input:</text><text x="48.7" y="23.8">output:</text><text x="95" y="7.9">2 x (1, 64, 256)</text><text x="95" y="23.8">(1, 64, 256)</text></g>
<g id="b6-layernorm2" class="n m" transform="translate(7.3,932.8)"><rect width="151.3" height="31.7"/><path d="M71,0V31.7M104,0V31.7M71,15.85H151.3"/><text x="35.5" y="11.5">LayerNormalization</text><text x="35.5" y="19.8">depth:2</text><text x="87.5" y="7.9">input:</text><text x="87.5" y="23.8">output:</text><text x="127.65" y="7.9">(1, 64, 256)</text><text x="127.65" y="23.8">(1, 64, 256)</text></g>
</g>
</g>
</g>
</svg>
